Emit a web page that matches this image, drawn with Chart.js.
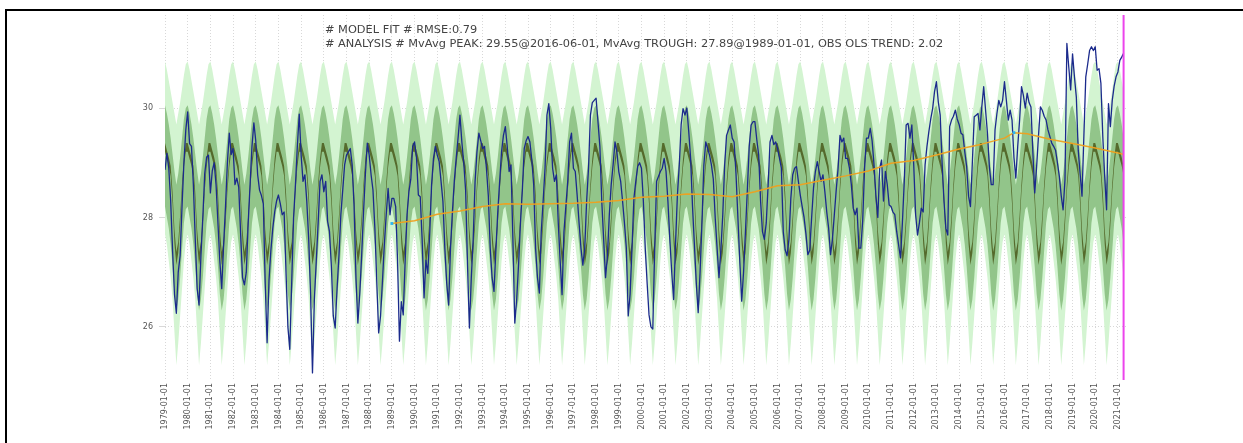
<!DOCTYPE html>
<html><head><meta charset="utf-8">
<script src="https://cdn.jsdelivr.net/npm/chart.js@4.4.0/dist/chart.umd.min.js"></script>
<style>
html,body{margin:0;padding:0;background:#fff;}
#wrap{position:relative;width:1243px;height:443px;overflow:hidden;background:#fff;}
#frame{position:absolute;left:5px;top:9px;width:1300px;height:500px;border-left:2px solid #000;border-top:2px solid #000;box-sizing:border-box;}
canvas{position:absolute;left:0;top:0;}
</style></head><body>
<div id="wrap"><div id="frame"></div><canvas id="c" width="1243" height="443"></canvas></div>
<script>
// ---------- DATA ----------
const startYear = 1979;           // first month = 1979-01
const yearTicks = [1979,1980,1981,1982,1983,1984,1985,1986,1987,1988,1989,1990,1991,1992,1993,1994,1995,1996,1997,1998,1999,2000,2001,2002,2003,2004,2005,2006,2007,2008,2009,2010,2011,2012,2013,2014,2015,2016,2017,2018,2019,2020,2021];
const yTicks = [26, 28, 30];

// observed monthly values, one row per year (Jan..Dec)
const obs = [
 28.87,29.17,28.9,28.3,27.4,26.6,26.25,27.0,27.3,28.2,29.0,29.6,
 29.93,29.35,29.3,28.6,27.6,26.7,26.4,27.3,28.0,28.8,29.1,29.14,
 28.45,28.85,29.0,28.6,27.9,27.2,26.7,27.5,28.2,29.0,29.54,29.15,
 29.26,28.6,28.72,28.55,27.7,26.9,26.77,27.0,27.9,28.6,29.3,29.73,
 29.4,28.78,28.5,28.4,28.25,26.8,25.71,26.85,27.4,27.8,28.1,28.3,
 28.41,28.25,28.05,28.1,27.0,26.0,25.59,26.8,28.0,28.6,29.3,29.89,
 29.14,28.66,28.78,28.29,27.6,26.6,25.16,26.5,27.2,27.9,28.66,28.78,
 28.47,28.66,27.93,27.74,27.1,26.2,25.98,26.7,27.3,28.05,28.5,28.96,
 29.14,29.2,29.26,28.96,28.2,26.9,26.07,26.6,27.3,28.1,28.8,29.36,
 29.14,28.78,28.5,27.8,26.83,25.89,26.2,26.83,27.5,28.05,28.53,28.05,
 28.35,28.35,28.2,27.2,25.74,26.46,26.22,27.19,28.05,28.47,28.7,29.3,
 29.38,29.1,28.41,28.38,27.6,26.53,27.22,26.98,27.7,28.6,29.08,29.3,
 29.14,29.02,28.66,28.29,27.44,26.8,26.4,27.44,28.1,28.66,29.08,29.45,
 29.87,29.38,29.0,28.5,27.13,25.98,26.9,27.6,28.66,29.2,29.54,29.4,
 29.26,29.3,28.9,28.4,27.44,26.9,26.65,27.4,28.1,28.66,29.2,29.5,
 29.66,29.3,28.84,28.96,27.6,26.07,26.5,27.14,27.9,28.5,29.26,29.4,
 29.48,29.38,29.05,28.6,27.44,26.9,26.62,27.74,28.3,28.9,29.87,30.08,
 29.63,28.9,28.66,28.78,27.9,27.2,26.59,27.74,28.2,28.66,29.38,29.54,
 28.9,28.84,28.4,27.9,27.44,27.13,27.44,28.3,28.9,29.87,30.1,30.14,
 30.18,29.75,29.3,28.3,27.6,26.9,27.3,28.05,28.6,28.96,29.38,29.2,
 28.84,28.66,28.3,27.9,27.44,26.2,26.6,27.44,28.35,28.66,28.93,29.0,
 28.9,28.3,27.44,26.8,26.22,26.0,25.96,27.44,28.66,28.75,28.84,28.9,
 29.08,28.84,28.29,27.6,27.0,26.5,27.5,28.4,28.96,29.7,29.99,29.87,
 30.0,29.57,29.08,28.2,27.5,26.8,26.26,27.0,27.9,28.96,29.38,29.26,
 29.14,28.96,28.7,28.0,27.44,26.9,27.4,28.05,28.96,29.5,29.6,29.69,
 29.45,29.38,28.8,28.0,27.2,26.47,27.0,27.74,28.5,29.3,29.69,29.75,
 29.75,29.42,29.14,28.3,27.74,27.6,27.9,28.6,29.38,29.5,29.33,29.38,
 29.26,29.08,28.9,27.74,27.41,27.3,27.6,28.35,28.78,28.9,28.93,28.66,
 28.41,28.2,28.0,27.7,27.32,27.4,28.0,28.54,28.84,29.02,28.84,28.66,
 28.78,28.47,28.1,27.8,27.32,27.6,28.05,28.5,28.9,29.5,29.38,29.45,
 29.08,29.08,28.9,28.6,28.17,28.05,28.17,27.44,27.44,27.93,28.9,29.45,
 29.45,29.63,29.4,28.96,28.4,28.0,28.9,29.05,28.3,28.84,28.6,28.23,
 28.2,28.1,28.05,27.74,27.5,27.26,27.9,28.66,29.69,29.72,29.45,29.69,
 28.96,28.05,27.68,27.9,28.17,28.1,28.96,29.3,29.57,29.8,29.99,30.3,
 30.48,30.11,29.87,29.0,28.3,27.8,27.68,29.66,29.78,29.85,29.96,29.8,
 29.7,29.54,29.51,29.2,28.93,28.39,28.2,29.0,29.84,29.87,29.9,29.6,
 30.02,30.39,29.96,29.54,28.93,28.6,28.6,29.6,29.9,30.14,30.02,30.14,
 30.48,30.14,29.78,29.96,29.78,29.1,28.72,29.3,29.78,30.39,30.23,30.0,
 30.27,30.1,30.02,29.2,28.45,28.93,29.5,30.02,29.96,29.85,29.78,29.6,
 29.48,29.36,29.3,29.23,29.0,28.75,28.4,28.14,28.69,31.18,30.75,30.33,
 30.99,30.57,30.2,29.23,28.8,28.39,29.5,30.57,30.8,31.05,31.12,31.05,
 31.12,30.69,30.72,30.45,29.48,28.75,28.14,30.08,29.66,30.14,30.4,30.57,
 30.66,30.87,30.93,31.0
];

// model seasonal envelopes by calendar month (Jan..Dec)
const lightLo = [27.7,27.5,27.2,26.9,26.5,25.9,25.3,25.7,26.2,26.7,27.2,27.55];
const lightHi = [30.85,30.7,30.5,30.3,30.1,29.9,29.7,29.9,30.1,30.35,30.6,30.8];
const darkLo  = [28.2,28.0,27.8,27.5,27.1,26.6,26.3,26.5,26.9,27.4,27.9,28.15];
const darkHi  = [30.05,29.9,29.7,29.45,29.15,28.85,28.6,28.8,29.1,29.45,29.8,30.0];
const medLo   = [29.2,29.07,28.94,28.76,28.24,27.52,27.13,27.35,27.86,28.47,28.92,29.2];
const medHi   = [29.36,29.23,29.1,28.94,28.46,27.78,27.37,27.55,28.04,28.63,29.08,29.36];

// moving average (date -> value)
const mvDates = ['1989-01','1990-01','1991-01','1992-01','1993-01','1994-01','1995-01','1996-01','1997-01','1998-01','1999-01','2000-01','2001-01','2002-01','2003-01','2004-01','2005-01','2006-01','2007-01','2008-01','2009-01','2010-01','2011-01','2012-01','2013-01','2014-01','2015-01','2016-01','2016-06','2017-01','2018-01','2019-01','2020-01','2021-01','2021-04'];
const mvVals  = [27.89,27.94,28.06,28.12,28.2,28.25,28.24,28.25,28.26,28.28,28.31,28.37,28.39,28.43,28.42,28.38,28.47,28.58,28.6,28.68,28.76,28.85,28.99,29.04,29.14,29.25,29.34,29.45,29.55,29.53,29.43,29.35,29.27,29.18,29.15];
const markerDates = ['1989-01','2016-06'];
const markerVals  = [27.89, 29.55];
const lastDate = '2021-04';

const annotLines = [
 '# MODEL FIT # RMSE:0.79',
 '# ANALYSIS # MvAvg PEAK: 29.55@2016-06-01, MvAvg TROUGH: 27.89@1989-01-01, OBS OLS TREND: 2.02'
];

// ---------- BUILD ----------
const idxOf = d => { const [y,m] = d.split('-').map(Number); return (y-startYear)*12 + (m-1); };
const envSeries = arr => obs.map((_, i) => ({x: i, y: arr[i % 12]}));
const obsPts = obs.map((v,i)=>({x:i,y:v}));
const mvPts = mvDates.map((d,i)=>({x:idxOf(d), y:mvVals[i]}));
const mkPts = markerDates.map((d,i)=>({x:idxOf(d), y:markerVals[i]}));
const lastIdx = idxOf(lastDate);
const Y_MIN = 25.03, Y_MAX = 31.7;

const band = (data, color, order, fillTarget) => ({
  data, order, borderWidth: 0, borderColor: 'rgba(0,0,0,0)', pointRadius: 0,
  backgroundColor: color, fill: fillTarget === undefined ? false : {target: fillTarget}, tension: 0
});

const datasets = [
  band(envSeries(lightLo), 'rgba(0,0,0,0)', 9),            //0
  band(envSeries(lightHi), '#d3f4d1', 8, 0),                 //1
  band(envSeries(darkLo), 'rgba(0,0,0,0)', 7),             //2
  band(envSeries(darkHi), '#92c58a', 6, 2),                  //3
  band(envSeries(medLo), 'rgba(0,0,0,0)', 5),              //4
  band(envSeries(medHi), '#556a2c', 4, 4),                   //5
  {data: obsPts, order: 3, borderColor: '#1b2a8c', borderWidth: 1.3, pointRadius: 0, fill: false, tension: 0},
  {data: mvPts, order: 2, borderColor: 'rgba(240,160,30,0.95)', borderWidth: 1.5, pointRadius: 0, fill: false, tension: 0},
  {data: mkPts, order: 1, showLine: false, pointRadius: 2, pointStyle: 'rect', backgroundColor: '#2ab4f0', borderColor: '#2ab4f0', borderWidth: 0},
  {data: [{x:lastIdx, y:Y_MIN},{x:lastIdx, y:Y_MAX}], order: 0, borderColor: '#ec44ec', borderWidth: 2, pointRadius: 0, fill: false}
];

const annotPlugin = {
  id: 'annot',
  afterDraw(chart) {
    const ctx = chart.ctx;
    ctx.save();
    ctx.font = '11.35px "DejaVu Sans"';
    ctx.fillStyle = '#444';
    ctx.textBaseline = 'middle';
    ctx.fillText(annotLines[0], 325, 30);
    ctx.fillText(annotLines[1], 325, 44);
    ctx.restore();
  }
};

new Chart(document.getElementById('c'), {
  type: 'line',
  data: { datasets },
  options: {
    responsive: false, animation: false, devicePixelRatio: 1,
    layout: { padding: { left: 0, right: 116, top: 15, bottom: 0 } },
    plugins: { legend: { display: false }, tooltip: { enabled: false } },
    elements: { line: { borderJoinStyle: 'round' } },
    scales: {
      x: {
        type: 'linear', min: 0, max: 508.8,
        afterBuildTicks: s => { s.ticks = yearTicks.map(y => ({value: (y-startYear)*12})); },
        afterFit: s => { s.height = 63; },
        ticks: {
          autoSkip: false, minRotation: 90, maxRotation: 90, padding: 3,
          color: '#555', font: { family: 'DejaVu Sans', size: 8 },
          callback: v => (startYear + v/12) + '-01-01'
        },
        grid: { color: '#d8d8d8', lineWidth: 1, drawTicks: false },
        border: { display: false, dash: [1, 2] }
      },
      y: {
        type: 'linear', min: Y_MIN, max: Y_MAX,
        afterBuildTicks: s => { s.ticks = yTicks.map(v => ({value: v})); },
        afterFit: s => { s.width = 165; },
        ticks: { color: '#555', padding: 6, font: { family: 'DejaVu Sans', size: 8 } },
        grid: { color: '#d8d8d8', lineWidth: 1, drawTicks: true, tickLength: 6 },
        border: { display: false, dash: [1, 2] }
      }
    }
  },
  plugins: [annotPlugin]
});
</script>
</body></html>
